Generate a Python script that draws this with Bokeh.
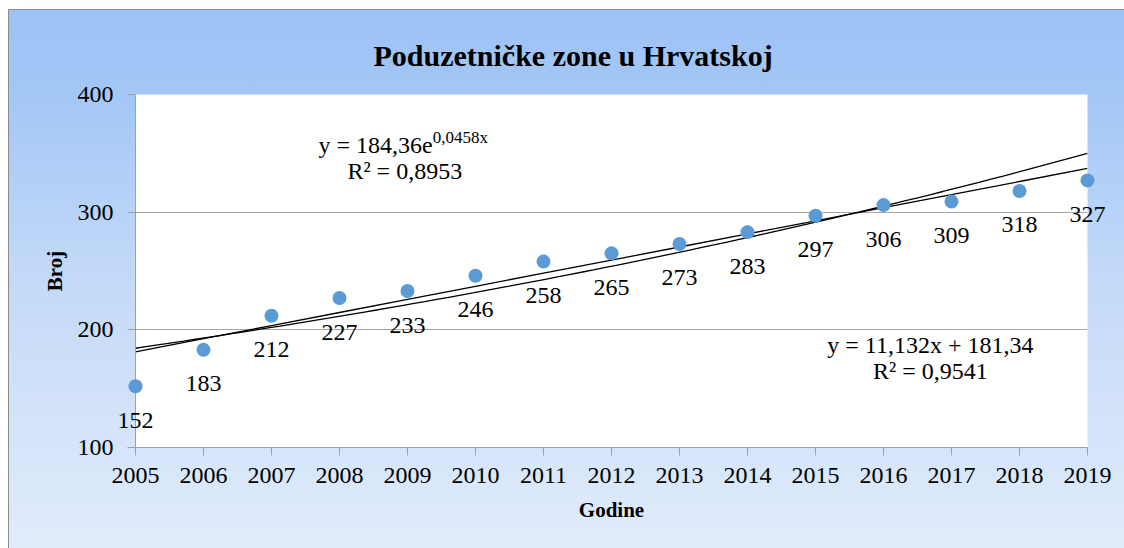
import numpy as np
from bokeh.plotting import figure
from bokeh.models import Range1d, FixedTicker, ColumnDataSource, Label
from bokeh.core.properties import value
from bokeh.embed import file_html
from bokeh.resources import INLINE

# ---- data ----
years = [2005, 2006, 2007, 2008, 2009, 2010, 2011, 2012, 2013, 2014, 2015, 2016, 2017, 2018, 2019]
counts = [152, 183, 212, 227, 233, 246, 258, 265, 273, 283, 297, 306, 309, 318, 327]
y_ticks = [100, 200, 300, 400]
lin_slope = 11.132
lin_intercept = 181.34
exp_a = 184.36
exp_b = 0.0458

title_text = "Poduzetničke zone u Hrvatskoj"
x_label = "Godine"
y_label = "Broj"
lin_eq = "y = 11,132x + 181,34"
lin_r2 = "R² = 0,9541"
exp_eq_main = "y = 184,36e"
exp_eq_sup = "0,0458x"
exp_r2 = "R² = 0,8953"

SERIF = "Liberation Serif"
AXIS_GRAY = "#a0a0a0"

p = figure(width=1124, height=548,
           x_range=Range1d(years[0], years[-1]), y_range=Range1d(y_ticks[0], y_ticks[-1]),
           output_backend="svg", toolbar_location=None,
           min_border_left=135, min_border_right=37, min_border_top=94, min_border_bottom=101,
           background_fill_color="white", border_fill_color=None, outline_line_color=None)

p.styles = {
    "background": "linear-gradient(180deg, #9cc2f5 0%, #a2c6f6 16%, #c3d9f8 50%, #e1ecfb 100%)",
    "box-shadow": "inset 8px 9px 0 0 white, inset 9px 10px 0 0 #8c8c8c",
}

# title
p.title.text = title_text
p.title.text_font = SERIF
p.title.text_font_size = "30px"
p.title.text_font_style = "bold"
p.title.text_color = "black"
p.title.align = "left"
p.title.offset = 238
p.title.standoff = 45

# axes
p.xaxis.ticker = FixedTicker(ticks=years)
p.yaxis.ticker = FixedTicker(ticks=y_ticks)
for ax in (p.xaxis, p.yaxis):
    ax.axis_line_color = AXIS_GRAY
    ax.major_tick_line_color = AXIS_GRAY
    ax.minor_tick_line_color = None
    ax.major_tick_out = 8
    ax.major_tick_in = 0
    ax.major_label_text_font = SERIF
    ax.major_label_text_font_size = "24px"
    ax.major_label_text_color = "black"
    ax.axis_label_text_font = SERIF
    ax.axis_label_text_font_size = "21px"
    ax.axis_label_text_font_style = "bold"
    ax.axis_label_text_color = "black"
p.xaxis.axis_label = x_label
p.yaxis.axis_label = y_label
p.xaxis.major_label_standoff = 12
p.yaxis.major_label_standoff = 14
p.xaxis.axis_label_standoff = 12
p.yaxis.axis_label_standoff = 8

p.xgrid.visible = False
p.ygrid.grid_line_color = "#a6a6a6"
p.ygrid.grid_line_width = 1

# trendlines (from the coefficients shown on the chart, x = year index from 0)
yr = np.array(years, dtype=float)
lin_y = lin_slope * (yr - years[0]) + lin_intercept
p.line(yr, lin_y, line_color="black", line_width=1.3)
xs = np.linspace(years[0], years[-1], 80)
exp_y = exp_a * np.exp(exp_b * (xs - years[0]))
p.line(xs, exp_y, line_color="black", line_width=1.3)

# points and their value labels
src = ColumnDataSource(dict(year=years, count=counts, label=[str(c) for c in counts]))
r = p.scatter("year", "count", source=src, size=14, fill_color="#5b9bd5", line_color=None)
r.level = "overlay"
t = p.text("year", "count", text="label", source=src, y_offset=34,
           text_align="center", text_baseline="alphabetic",
           text_font=value(SERIF), text_font_size=value("24px"), text_color="black")
t.level = "overlay"

# equation texts
def add_label(x, y, text, size, align):
    p.add_layout(Label(x=x, y=y, text=text, text_font=SERIF, text_font_size=size,
                       text_align=align, text_baseline="alphabetic", text_color="black"))

add_label(2009.37, 357.5, exp_eq_main, "24px", "right")
add_label(2009.37, 363.5, exp_eq_sup, "17px", "left")
add_label(2008.96, 335.4, exp_r2, "24px", "center")
add_label(2016.69, 186.8, lin_eq, "24px", "center")
add_label(2016.69, 165.4, lin_r2, "24px", "center")

open("out.html", "w").write(file_html(p, INLINE))
